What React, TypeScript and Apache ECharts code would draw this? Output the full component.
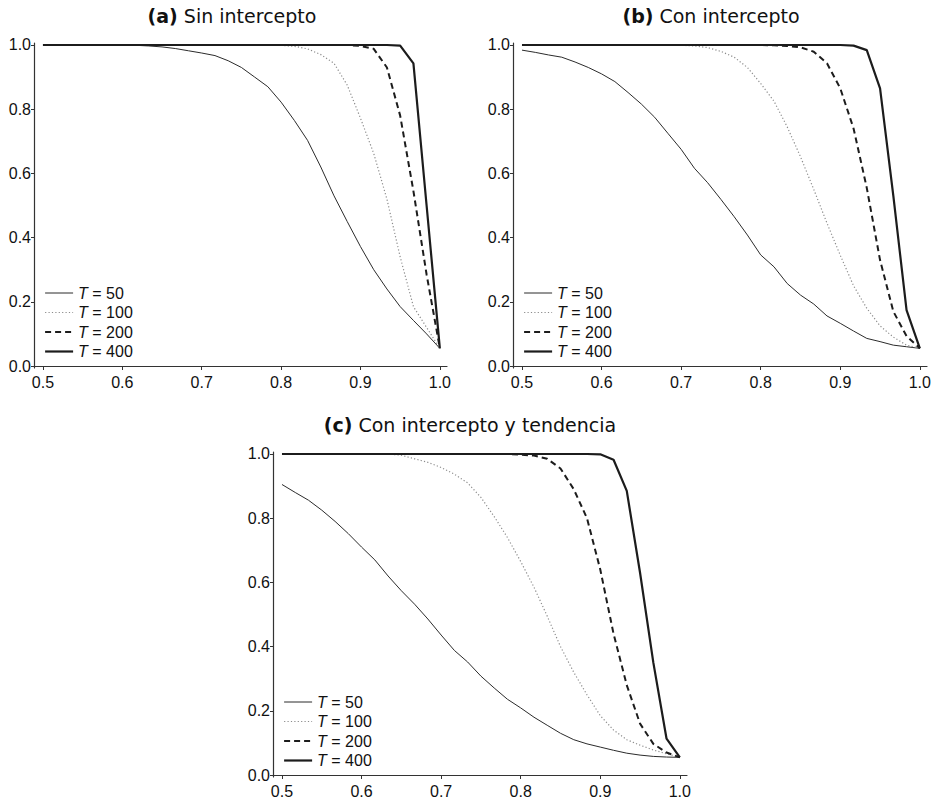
import React, { useEffect, useRef } from "react";
import * as echarts from "echarts";

// Autoregressive coefficient grid (x axis)
const RHO = [
  0.5, 0.5167, 0.5333, 0.55, 0.5667, 0.5833, 0.6, 0.6167, 0.6333, 0.65, 0.6667,
  0.6833, 0.7, 0.7167, 0.7333, 0.75, 0.7667, 0.7833, 0.8, 0.8167, 0.8333, 0.85,
  0.8667, 0.8833, 0.9, 0.9167, 0.9333, 0.95, 0.9667, 0.9833, 1.0,
];

// (a) Sin intercepto
const A_T50 = [
  1, 1, 1, 1, 1, 1, 1, 0.999, 0.997, 0.994, 0.989, 0.982, 0.975, 0.967, 0.951,
  0.93, 0.9, 0.87, 0.822, 0.765, 0.703, 0.62, 0.53, 0.45, 0.372, 0.3, 0.24,
  0.185, 0.142, 0.1, 0.055,
];
const A_T100 = [
  1, 1, 1, 1, 1, 1, 1, 1, 1, 1, 1, 1, 1, 1, 1, 1, 1, 1, 0.999, 0.996, 0.988,
  0.97, 0.943, 0.875, 0.772, 0.662, 0.52, 0.34, 0.185, 0.12, 0.055,
];
const A_T200 = [
  1, 1, 1, 1, 1, 1, 1, 1, 1, 1, 1, 1, 1, 1, 1, 1, 1, 1, 1, 1, 1, 1, 1, 1, 0.997,
  0.988, 0.93, 0.78, 0.545, 0.285, 0.055,
];
const A_T400 = [
  1, 1, 1, 1, 1, 1, 1, 1, 1, 1, 1, 1, 1, 1, 1, 1, 1, 1, 1, 1, 1, 1, 1, 1, 1, 1,
  1, 0.998, 0.943, 0.5, 0.055,
];

// (b) Con intercepto
const B_T50 = [
  0.984, 0.977, 0.969, 0.962, 0.947, 0.93, 0.91, 0.886, 0.852, 0.816, 0.775,
  0.725, 0.675, 0.616, 0.571, 0.519, 0.465, 0.408, 0.346, 0.309, 0.257, 0.221,
  0.193, 0.156, 0.133, 0.109, 0.086, 0.076, 0.065, 0.06, 0.055,
];
const B_T100 = [
  1, 1, 1, 1, 1, 1, 1, 1, 1, 1, 1, 1, 0.999, 0.997, 0.992, 0.98, 0.962, 0.93,
  0.88, 0.825, 0.745, 0.652, 0.55, 0.445, 0.345, 0.25, 0.18, 0.125, 0.09, 0.065,
  0.055,
];
const B_T200 = [
  1, 1, 1, 1, 1, 1, 1, 1, 1, 1, 1, 1, 1, 1, 1, 1, 1, 1, 1, 0.999, 0.997, 0.993,
  0.979, 0.943, 0.865, 0.74, 0.555, 0.33, 0.17, 0.093, 0.055,
];
const B_T400 = [
  1, 1, 1, 1, 1, 1, 1, 1, 1, 1, 1, 1, 1, 1, 1, 1, 1, 1, 1, 1, 1, 1, 1, 1, 1,
  0.998, 0.984, 0.865, 0.53, 0.174, 0.055,
];

// (c) Con intercepto y tendencia
const C_T50 = [
  0.905, 0.88, 0.856, 0.825, 0.79, 0.752, 0.71, 0.67, 0.62, 0.574, 0.532, 0.486,
  0.436, 0.388, 0.352, 0.308, 0.271, 0.236, 0.209, 0.18, 0.155, 0.13, 0.11,
  0.097, 0.087, 0.077, 0.068, 0.062, 0.058, 0.056, 0.055,
];
const C_T100 = [
  1, 1, 1, 1, 1, 1, 1, 1, 1, 0.996, 0.985, 0.974, 0.958, 0.937, 0.91, 0.865,
  0.805, 0.74, 0.665, 0.585, 0.495, 0.4, 0.32, 0.25, 0.185, 0.14, 0.11, 0.093,
  0.078, 0.066, 0.055,
];
const C_T200 = [
  1, 1, 1, 1, 1, 1, 1, 1, 1, 1, 1, 1, 1, 1, 1, 1, 1, 1, 0.998, 0.995, 0.985,
  0.955, 0.89, 0.8, 0.64, 0.44, 0.28, 0.16, 0.097, 0.07, 0.055,
];
const C_T400 = [
  1, 1, 1, 1, 1, 1, 1, 1, 1, 1, 1, 1, 1, 1, 1, 1, 1, 1, 1, 1, 1, 1, 1, 1, 0.999,
  0.982, 0.885, 0.63, 0.35, 0.113, 0.055,
];

const SERIES_NAMES = ["T = 50", "T = 100", "T = 200", "T = 400"];
const PANEL_DATA = [
  [A_T50, A_T100, A_T200, A_T400],
  [B_T50, B_T100, B_T200, B_T400],
  [C_T50, C_T100, C_T200, C_T400],
];
const PANEL_TITLES = [
  ["(a)", "Sin intercepto"],
  ["(b)", "Con intercepto"],
  ["(c)", "Con intercepto y tendencia"],
];
const X_TICKS = [0.5, 0.6, 0.7, 0.8, 0.9, 1.0];
const Y_TICKS = [0, 0.2, 0.4, 0.6, 0.8, 1.0];

// Layout
const GRIDS = [
  { left: 34, top: 43, width: 413, height: 325 },
  { left: 513, top: 43, width: 414, height: 325 },
  { left: 273, top: 452, width: 414, height: 326 },
];
const LEGEND_POS = [
  { left: 44, top: 285 },
  { left: 523, top: 285 },
  { left: 283, top: 694 },
];
const TITLE_POS = [
  { x: 232, y: 16 },
  { x: 711, y: 16 },
  { x: 470, y: 425 },
];

const LINE_STYLES = [
  { color: "#2b2b2b", width: 1, type: "solid" },
  { color: "#8c8c8c", width: 1.2, type: [1.2, 2.2] },
  { color: "#1c1c1c", width: 2, type: [6, 4] },
  { color: "#1c1c1c", width: 2.2, type: "solid" },
];

const AXIS_COLOR = "#333";
const TICK_FONT = "Liberation Sans";

export default function App() {
  const ref = useRef<HTMLDivElement>(null);

  useEffect(() => {
    if (!ref.current) return;
    const chart = echarts.init(ref.current, undefined, { renderer: "svg" });

    const xAxis = GRIDS.map((_, i) => ({
      type: "value",
      gridIndex: i,
      min: 0.4887,
      max: 1.009,
      axisLine: { show: true, lineStyle: { color: AXIS_COLOR, width: 1.2 } },
      axisTick: {
        show: true,
        length: 4,
        customValues: X_TICKS,
        lineStyle: { color: AXIS_COLOR },
      },
      axisLabel: {
        customValues: X_TICKS,
        margin: 6,
        fontFamily: TICK_FONT,
        fontSize: 16,
        color: "#111",
        formatter: (v: number) => v.toFixed(1),
      },
      splitLine: { show: false },
    }));

    const yAxis = GRIDS.map((_, i) => ({
      type: "value",
      gridIndex: i,
      min: -0.0062,
      max: 1.0062,
      axisLine: { show: true, lineStyle: { color: AXIS_COLOR, width: 1.2 } },
      axisTick: {
        show: true,
        length: 3,
        customValues: Y_TICKS,
        lineStyle: { color: AXIS_COLOR },
      },
      axisLabel: {
        customValues: Y_TICKS,
        margin: 3,
        fontFamily: TICK_FONT,
        fontSize: 16,
        color: "#111",
        formatter: (v: number) => v.toFixed(1),
      },
      splitLine: { show: false },
    }));

    const series: any[] = [];
    PANEL_DATA.forEach((panel, i) => {
      panel.forEach((vals, j) => {
        series.push({
          type: "line",
          name: SERIES_NAMES[j],
          xAxisIndex: i,
          yAxisIndex: i,
          data: RHO.map((x, k) => [x, vals[k]]),
          symbol: "none",
          showSymbol: false,
          silent: true,
          clip: false,
          color: LINE_STYLES[j].color,
          lineStyle: LINE_STYLES[j],
          z: 2 + j,
        });
      });
    });

    const legend = LEGEND_POS.map((p) => ({
      orient: "vertical",
      left: p.left,
      top: p.top,
      padding: 0,
      itemWidth: 28,
      itemHeight: 14,
      itemGap: 3.5,
      selectedMode: false,
      data: SERIES_NAMES,
      // only the line sample is shown, no marker on it
      itemStyle: { opacity: 0 },
      lineStyle: { width: "inherit", type: "inherit", color: "inherit" },
      formatter: (name: string) => "{it|T}" + name.slice(1),
      textStyle: {
        fontFamily: TICK_FONT,
        fontSize: 16,
        lineHeight: 16,
        color: "#111",
        rich: {
          it: {
            fontFamily: TICK_FONT,
            fontSize: 16,
            lineHeight: 16,
            fontStyle: "italic",
            color: "#111",
          },
        },
      },
    }));

    const graphic = PANEL_TITLES.map((t, i) => ({
      type: "text",
      x: TITLE_POS[i].x,
      y: TITLE_POS[i].y,
      silent: true,
      style: {
        text: `{b|${t[0]}} ${t[1]}`,
        fontFamily: "DejaVu Sans",
        fontSize: 19,
        fill: "#111",
        align: "center",
        verticalAlign: "middle",
        rich: {
          b: {
            fontFamily: "DejaVu Sans",
            fontSize: 19,
            fontWeight: "bold",
            fill: "#111",
          },
        },
      },
    }));

    chart.setOption({
      animation: false,
      backgroundColor: "#ffffff",
      grid: GRIDS,
      xAxis,
      yAxis,
      legend,
      series,
      graphic,
    });

    return () => chart.dispose();
  }, []);

  return (
    <div
      ref={ref}
      style={{ position: "fixed", left: 0, top: 0, width: 937, height: 799 }}
    />
  );
}
